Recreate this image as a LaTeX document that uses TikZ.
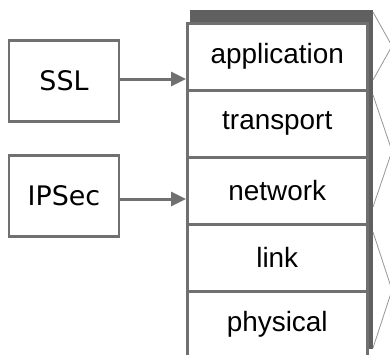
\documentclass[tikz,border=0pt]{standalone}
\usepackage{fontspec}
\setmainfont{Liberation Sans}
\newfontfamily\handfont{DejaVu Sans}
\definecolor{myedge}  {RGB}{112, 112, 112}
\definecolor{myshade} {RGB}{96, 96, 96}
\definecolor{mythin}  {RGB}{150, 150, 150}
\usetikzlibrary{arrows.meta, positioning}

\begin{document}
\begin{tikzpicture}[x=1bp, y=-1bp,
    layer/.style={draw=myedge, line width=2.5bp, fill=white, minimum width=180bp, minimum height=67bp, anchor=north west, inner sep=0pt, font=\fontsize{28}{32}\selectfont},
    proto/.style={draw=myedge, line width=2.5bp, fill=white, minimum width=110bp, minimum height=81bp, inner sep=0pt, font=\handfont\fontsize{27}{30}\selectfont},
    feed/.style={draw=myedge, line width=3bp, -{Triangle[length=15bp, width=14bp]}}]
        \useasboundingbox (0,0) rectangle (390,355);
        \clip (0,0) rectangle (390,355);
        % shadow of the stack
        \fill[myshade] (190,10) rectangle (373,349);
        \foreach \name/\label [count=\i from 0] in {app/application, trans/transport, net/network, link/link, phys/physical}
        {
            \node[layer] (\name) at (186, 22+67*\i) {\label};
        }
        \node[proto] (ssl) at (64,81) {SSL};
        \node[proto] (ipsec) at (64,196) {IPSec};
        \coordinate (sslout) at ([yshift=2bp]ssl.east);
        \coordinate (ipsecout) at ([yshift=-3bp]ipsec.east);
        \draw[feed] (sslout) -- (sslout -| app.west);
        \draw[feed] (ipsecout) -- (ipsecout -| net.west);
        % brackets on the right
        \draw[mythin, line width=0.8bp] (373,12) -- (392,46) -- (373,80);
        \draw[mythin, line width=0.8bp] (373,95) -- (392,151) -- (373,207);
        \draw[mythin, line width=0.8bp] (373,232) -- (392,290) -- (373,348);
    \end{tikzpicture}
\end{document}
